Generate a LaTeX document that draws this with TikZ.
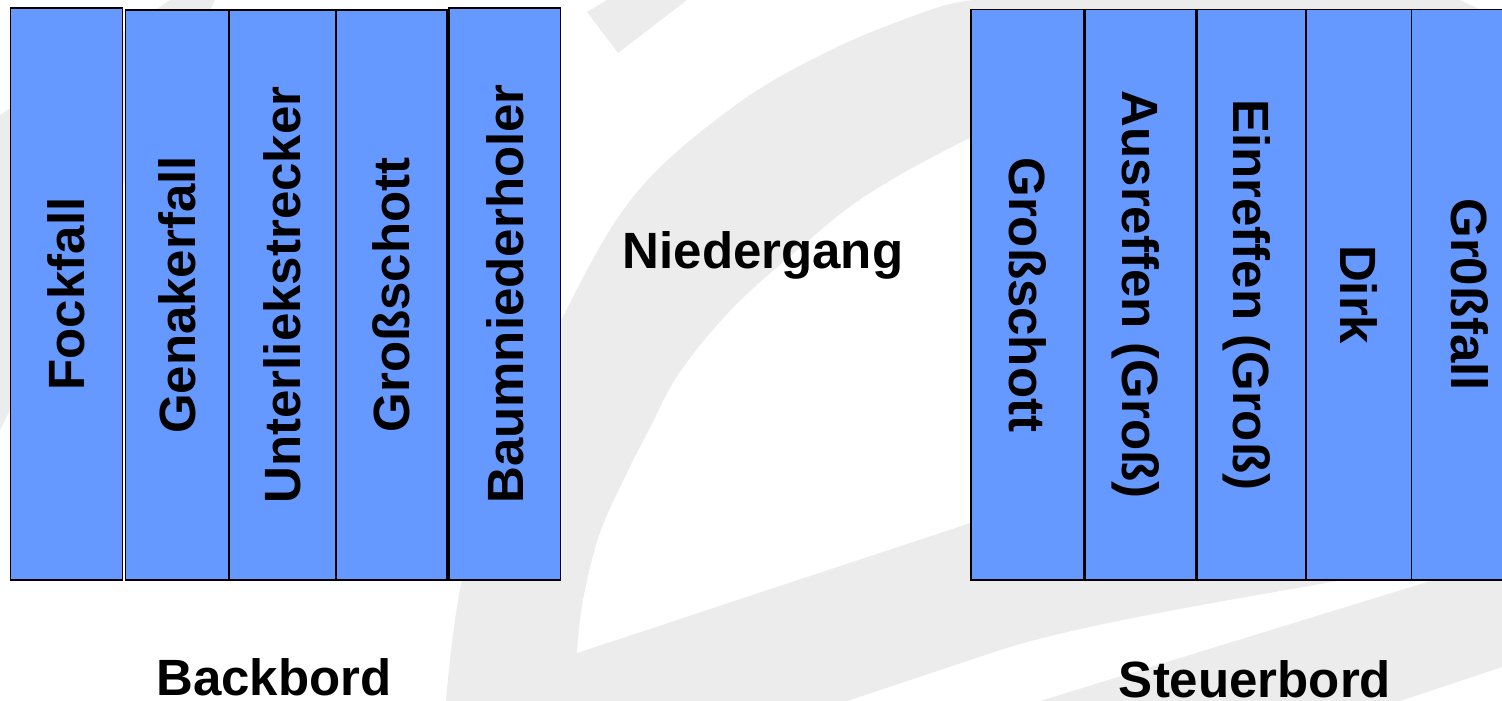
\documentclass[tikz,border=0pt]{standalone}
\usepackage{fontspec}
\setmainfont{Liberation Sans}
\definecolor{boxblue}{RGB}{102,153,255}
\definecolor{wmgray}{RGB}{235,236,235}
\begin{document}
\begin{tikzpicture}[x=1pt,y=-1pt,
  wm/.style={fill=wmgray},
  bx/.style={draw=black, line width=1.6pt, fill=boxblue, inner sep=0pt},
  lbl/.style={font=\fontsize{51}{60}\selectfont\bfseries, inner sep=0pt, text height=36.5pt, text depth=0pt},
  ttl/.style={font=\fontsize{51}{60}\selectfont\bfseries, inner sep=0pt, anchor=base}]
\useasboundingbox (0,0) rectangle (1502,701);
\clip (0,0) rectangle (1502,701);
% watermark
\fill[wm] plot[smooth, tension=0.6] coordinates {(446,701) (462,580) (505,440) (560,322) (633,197) (733,107) (833,49) (933,9) (975,0)}
  -- (1460,0) -- (1502,20) -- (1502,540) -- (1355,578) .. controls (1200,605) and (1080,625) .. (1000,650) -- (847,701) -- cycle;
\fill[white] plot[smooth, tension=0.6] coordinates {(577,653) (583,600) (600,533) (627,473) (650,428) (680,372) (733,308) (800,248) (867,195) (970,138) (1100,80)} -- (1100,480) -- cycle;
\fill[wm] (607,0) -- (587,12) -- (618,53) -- (687,0) -- cycle;
\fill[wm] (0,115) -- (170,0) -- (215,0) -- (0,430) -- cycle;
\fill[wm] (1040,701) -- (1450,575) -- (1502,575) -- (1502,667) -- (1400,701) -- cycle;
% Backbord boxes
\node[bx, minimum width=112pt, minimum height=572pt] (b1) at (66.6,294) {};
\node[bx, minimum width=103.7pt, minimum height=570pt] (b2) at (177.2,295) {};
\node[bx, minimum width=107pt, minimum height=570pt] (b3) at (282.5,295) {};
\node[bx, minimum width=111pt, minimum height=570pt] (b4) at (391.5,295) {};
\node[bx, minimum width=111.5pt, minimum height=572pt] (b5) at (504.75,294) {};
% Steuerbord boxes
\node[bx, minimum width=112.5pt, minimum height=570.5pt] (s1) at (1027.25,294.75) {};
\node[bx, minimum width=111pt, minimum height=570.5pt] (s2) at (1140.5,294.75) {};
\node[bx, minimum width=109pt, minimum height=570.5pt] (s3) at (1251.5,294.75) {};
\node[bx, minimum width=105.5pt, minimum height=570.5pt] (s4) at (1358.75,294.75) {};
\node[bx, minimum width=116.5pt, minimum height=570.5pt] (s5) at (1469.75,294.75) {};
% labels
\node[lbl, rotate=90] (tb1) at (b1.center) {Fockfall};
\node[lbl, rotate=90] (tb2) at (b2.center) {Genakerfall};
\node[lbl, rotate=90] (tb3) at (b3.center) {Unterliekstrecker};
\node[lbl, rotate=90] (tb4) at (b4.center) {Großschott};
\node[lbl, rotate=90] (tb5) at (b5.center) {Baumniederholer};
\node[lbl, rotate=-90] (ts1) at (s1.center) {Großschott};
\node[lbl, rotate=-90] (ts2) at (s2.center) {Ausreffen (Groß)};
\node[lbl, rotate=-90] (ts3) at (s3.center) {Einreffen (Groß)};
\node[lbl, rotate=-90] (ts4) at (s4.center) {Dirk};
\node[lbl, rotate=-90] (ts5) at (s5.center) {Gr0ßfall};
\node[ttl] (nied) at (763,268) {Niedergang};
\node[ttl] (back) at (274,695) {Backbord};
\node[ttl] (steu) at (1255,697) {Steuerbord};
\end{tikzpicture}
\end{document}
